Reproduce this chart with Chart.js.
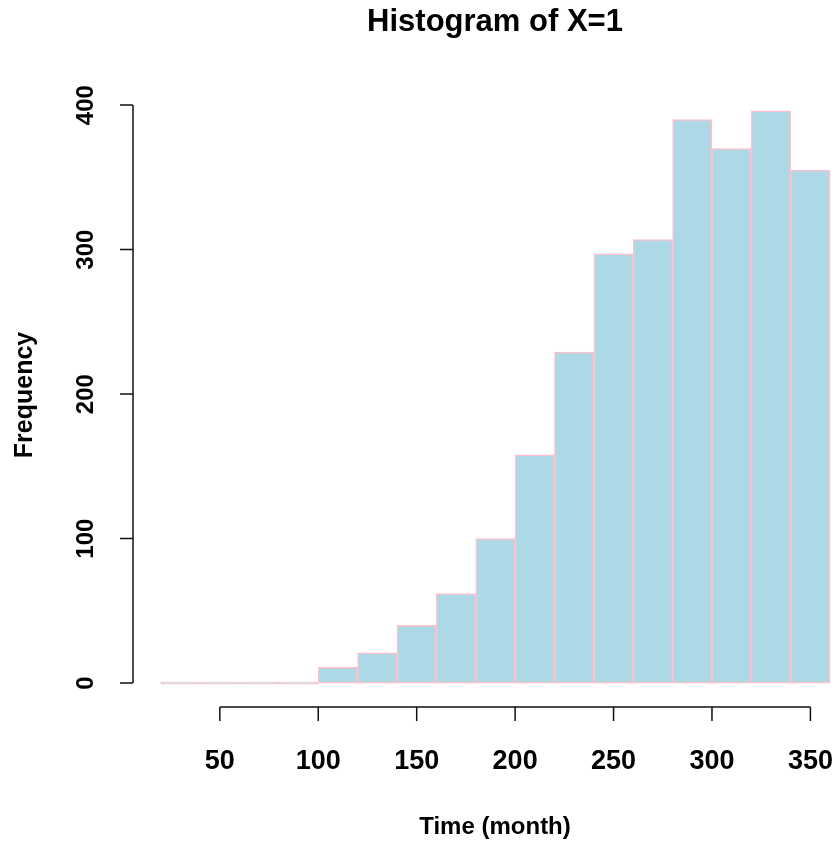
<!DOCTYPE html>
<html><head><meta charset="utf-8">
<script src="https://cdn.jsdelivr.net/npm/chart.js@4.4.0/dist/chart.umd.min.js"></script>
<style>html,body{margin:0;padding:0;background:#fff;overflow:hidden}canvas{display:block}</style>
</head><body>
<canvas id="c" width="836" height="844"></canvas>
<script>
// ---- data ----
const binStarts = [20, 40, 60, 80, 100, 120, 140, 160, 180, 200, 220, 240, 260, 280, 300, 320, 340];
const binEnds   = [40, 60, 80, 100, 120, 140, 160, 180, 200, 220, 240, 260, 280, 300, 320, 340, 360];
const counts    = [0, 0, 0, 0, 11, 21, 40, 62, 100, 158, 229, 297, 307, 390, 370, 396, 355];
const xTickValues = [50, 100, 150, 200, 250, 300, 350];
const yTickValues = [0, 100, 200, 300, 400];
const titleText = 'Histogram of X=1';
const xTitleText = 'Time (month)';
const yTitleText = 'Frequency';

const points = binStarts.map((s, i) => ({ x: (s + binEnds[i]) / 2, y: counts[i] }));

const FONT = '"Liberation Sans", Arial, Helvetica, sans-serif';

const rAxes = {
  id: 'rAxes',
  afterDraw(chart) {
    const ctx = chart.ctx, xs = chart.scales.x, ys = chart.scales.y, ca = chart.chartArea;
    ctx.save();
    ctx.strokeStyle = '#111';
    ctx.fillStyle = '#000';
    ctx.lineWidth = 1.5;

    // x axis
    const xt = xs.ticks;
    const axY = ca.bottom + 1;
    ctx.beginPath();
    ctx.moveTo(xs.getPixelForValue(xt[0].value), axY);
    ctx.lineTo(xs.getPixelForValue(xt[xt.length - 1].value), axY);
    xt.forEach(t => { const p = xs.getPixelForValue(t.value); ctx.moveTo(p, axY); ctx.lineTo(p, axY + 14); });
    ctx.stroke();
    ctx.font = 'bold 27px ' + FONT;
    ctx.textAlign = 'center';
    ctx.textBaseline = 'alphabetic';
    xt.forEach(t => ctx.fillText(String(t.label), xs.getPixelForValue(t.value), 769));

    // y axis
    const yt = ys.ticks;
    const axX = ca.left - 1;
    ctx.beginPath();
    ctx.moveTo(axX, ys.getPixelForValue(yt[0].value));
    ctx.lineTo(axX, ys.getPixelForValue(yt[yt.length - 1].value));
    yt.forEach(t => { const p = ys.getPixelForValue(t.value); ctx.moveTo(axX, p); ctx.lineTo(axX - 13, p); });
    ctx.stroke();
    ctx.font = 'bold 24px ' + FONT;
    yt.forEach(t => {
      ctx.save();
      ctx.translate(93, ys.getPixelForValue(t.value));
      ctx.rotate(-Math.PI / 2);
      ctx.fillText(String(t.label), 0, 0);
      ctx.restore();
    });

    // axis titles
    ctx.font = 'bold 24px ' + FONT;
    ctx.fillText(xTitleText, 495, 834);
    ctx.save();
    ctx.font = 'bold 25px ' + FONT;
    ctx.translate(32, 395);
    ctx.rotate(-Math.PI / 2);
    ctx.fillText(yTitleText, 0, 0);
    ctx.restore();

    // main title
    ctx.font = 'bold 31px ' + FONT;
    ctx.fillText(titleText, 495, 31);
    ctx.restore();
  }
};

new Chart(document.getElementById('c'), {
  type: 'bar',
  data: {
    datasets: [{
      label: 'Frequency',
      data: points,
      backgroundColor: '#ADD8E6',
      borderColor: '#FFC0CB',
      borderWidth: 1.5,
      borderSkipped: false,
      barPercentage: 1,
      categoryPercentage: 1,
      minBarLength: 2
    }]
  },
  options: {
    responsive: false,
    animation: false,
    devicePixelRatio: 1,
    layout: { padding: { left: 134, right: 0, top: 88, bottom: 138 } },
    plugins: { legend: { display: false }, title: { display: false }, tooltip: { enabled: false } },
    scales: {
      x: {
        type: 'linear', min: 6.4, max: 363, offset: false, display: false,
        afterBuildTicks: s => { s.ticks = xTickValues.map(v => ({ value: v })); }
      },
      y: {
        type: 'linear', min: -15.84, max: 411.84, display: false,
        afterBuildTicks: s => { s.ticks = yTickValues.map(v => ({ value: v })); }
      }
    }
  },
  plugins: [rAxes]
});
</script>
</body></html>
